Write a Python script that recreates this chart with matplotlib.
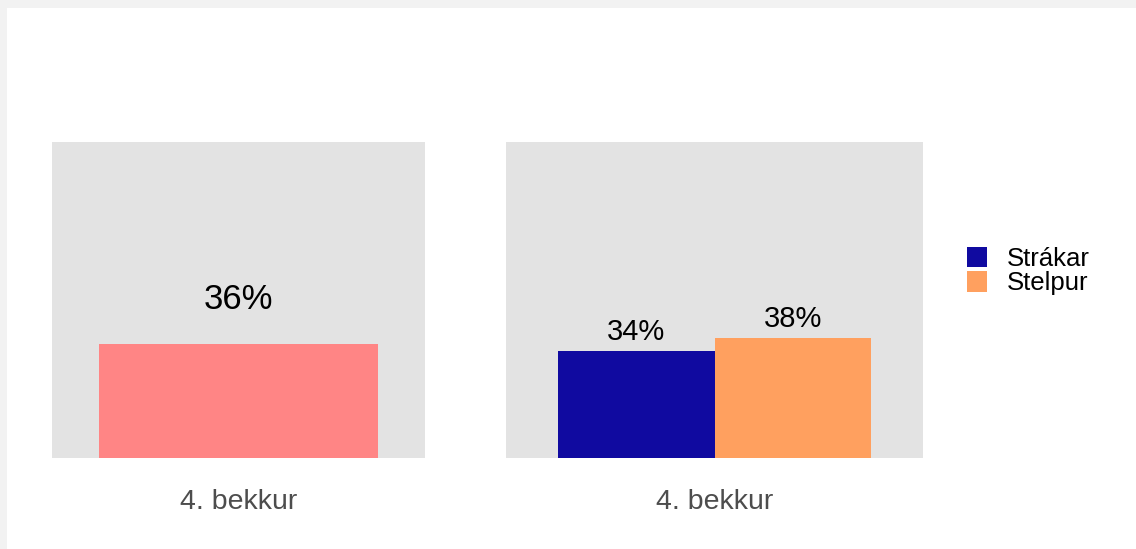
import matplotlib
matplotlib.use("Agg")
import matplotlib.pyplot as plt
from matplotlib.patches import Rectangle

plt.rcParams['font.family'] = ['Liberation Sans', 'DejaVu Sans']

category = "4. bekkur"
overall_value = [0.36]
groups = ["Strákar", "Stelpur"]
group_values = [0.34, 0.38]
overall_color = "#FF8585"
group_colors = ["#100AA0", "#FFA05F"]

W, H = 1136, 549
fig = plt.figure(figsize=(W / 100, H / 100), dpi=100)
fig.patch.set_facecolor("white")
# light gray frame on top and left
fig.patches.append(Rectangle((0, 1 - 8 / H), 1, 8 / H, transform=fig.transFigure,
                             facecolor="#F2F2F2", edgecolor="none", zorder=0))
fig.patches.append(Rectangle((0, 0), 7 / W, 1, transform=fig.transFigure,
                             facecolor="#F2F2F2", edgecolor="none", zorder=0))


def ax_px(x0, y0, x1, y1):
    return fig.add_axes([x0 / W, 1 - y1 / H, (x1 - x0) / W, (y1 - y0) / H])


def style(ax):
    ax.set_facecolor("#E3E3E3")
    for s in ax.spines.values():
        s.set_visible(False)
    ax.set_ylim(0, 1)
    ax.set_xlim(0.4, 1.6)
    ax.set_yticks([])
    ax.set_xticks([1])
    ax.set_xticklabels([category], fontsize=20.5, color="#4D4D4D")
    ax.tick_params(axis="x", length=0, pad=22)


ax1 = ax_px(52, 142, 425, 458)
style(ax1)
ax1.bar([1], overall_value, width=0.9, color=overall_color)
for v in overall_value:
    ax1.text(1, v + 0.09, f"{round(v*100)}%", ha="center", va="bottom", fontsize=25)

ax2 = ax_px(506, 142, 923, 458)
style(ax2)
bw = 0.45
offsets = [-bw / 2, bw / 2]
for g, v, c, o in zip(groups, group_values, group_colors, offsets):
    ax2.bar([1 + o], [v], width=bw, color=c, label=g)
    ax2.text(1 + o, v + 0.015, f"{round(v*100)}%", ha="center", va="bottom", fontsize=21)

leg = fig.legend(loc="center left", bbox_to_anchor=(967 / W, 1 - 271 / H),
                 frameon=False, fontsize=18.5, handlelength=0.78, handleheight=0.86,
                 handletextpad=0.78, labelspacing=0.02, borderaxespad=0, borderpad=0)

fig.savefig("out.png", dpi=100, facecolor=fig.get_facecolor())
